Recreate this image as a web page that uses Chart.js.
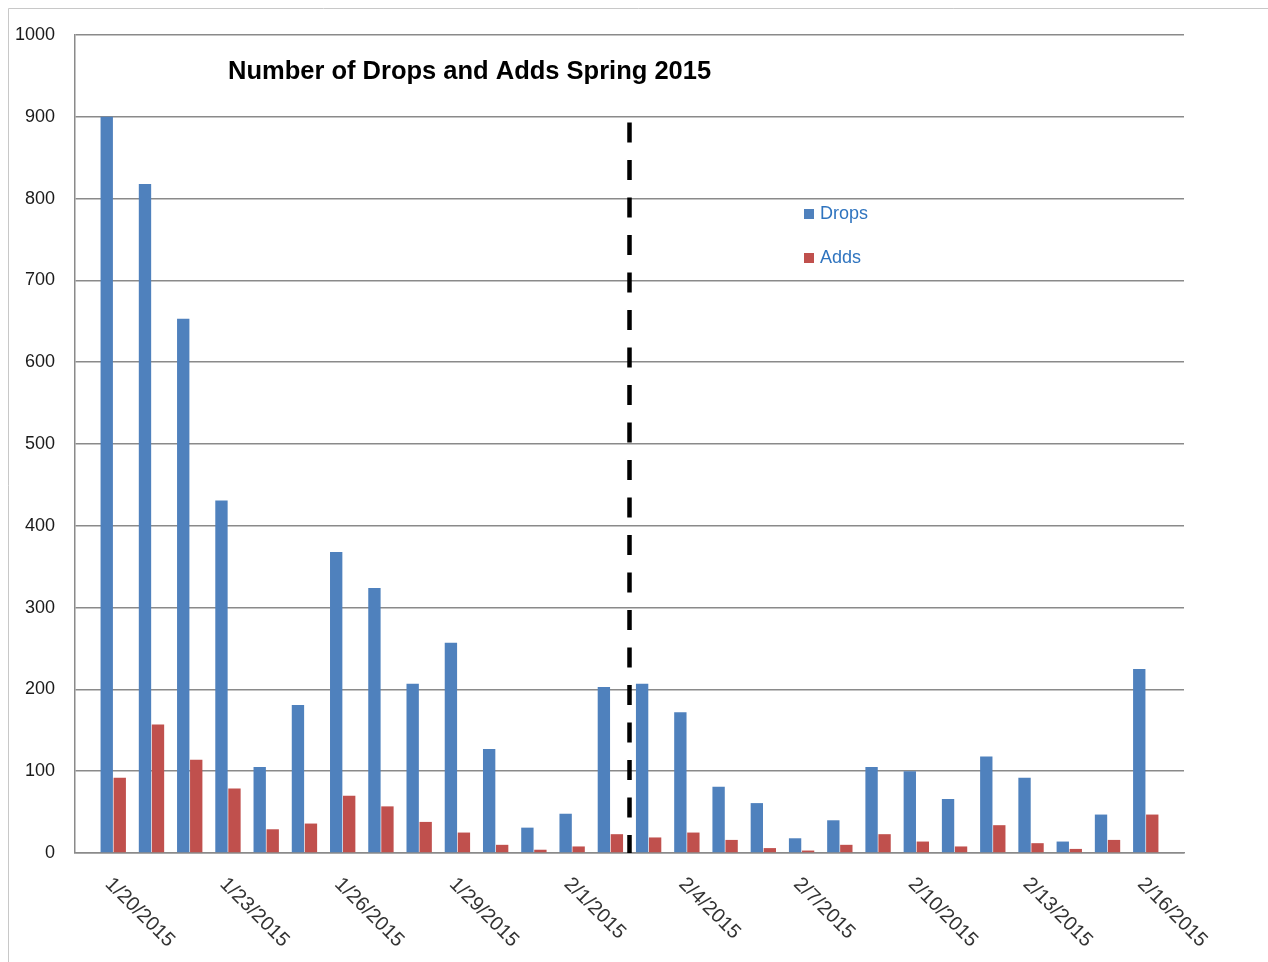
<!DOCTYPE html>
<html>
<head>
<meta charset="utf-8">
<title>Drops and Adds</title>
<script src="https://cdn.jsdelivr.net/npm/chart.js@4.4.1/dist/chart.umd.min.js"></script>
<style>
  html, body { margin: 0; padding: 0; background: #fff; }
  #wrap { width: 1268px; height: 962px; }
</style>
</head>
<body>
<div id="wrap"><canvas id="myChart" width="1268" height="962"></canvas></div>
<script>
//Data. Axis runs from the day before the first bar to the day after the last one.
var days = ['1/19/2015','1/20/2015','1/21/2015','1/22/2015','1/23/2015','1/24/2015','1/25/2015','1/26/2015',
            '1/27/2015','1/28/2015','1/29/2015','1/30/2015','1/31/2015','2/1/2015','2/2/2015','2/3/2015',
            '2/4/2015','2/5/2015','2/6/2015','2/7/2015','2/8/2015','2/9/2015','2/10/2015','2/11/2015',
            '2/12/2015','2/13/2015','2/14/2015','2/15/2015','2/16/2015','2/17/2015'];

//1/20 through 2/16
var drops = [900, 818, 653, 431, 105, 181, 368, 324, 207, 257, 127, 31, 48, 203,
             207, 172, 81, 61, 18, 40, 105, 100, 66, 118, 92, 14, 47, 225];
var adds  = [92, 157, 114, 79, 29, 36, 70, 57, 38, 25, 10, 4, 8, 23,
             19, 25, 16, 6, 3, 10, 23, 14, 8, 34, 12, 5, 16, 47];

//only every third date gets a label
var shownTicks = ['1/20/2015','1/23/2015','1/26/2015','1/29/2015','2/1/2015','2/4/2015',
                  '2/7/2015','2/10/2015','2/13/2015','2/16/2015'];

var chartTitle = 'Number of Drops and Adds Spring 2015';
var splitAfter = '2/2/2015';   // dashed line goes between this day and the next
var dividerTop = 893;

//pad the series so they line up with the days array (no bar on the end days)
var dropsData = [null].concat(drops).concat([null]);
var addsData = [null].concat(adds).concat([null]);

var extras = {
  id: 'extras',
  beforeDraw: function(chart) {
    var ctx = chart.ctx;
    ctx.save();
    ctx.fillStyle = '#fff';
    ctx.fillRect(0, 0, chart.width, chart.height);
    // thin frame round the picture
    ctx.strokeStyle = '#c8c8c8';
    ctx.lineWidth = 1;
    ctx.beginPath();
    ctx.moveTo(8.5, chart.height);
    ctx.lineTo(8.5, 8.5);
    ctx.lineTo(chart.width, 8.5);
    ctx.stroke();
    ctx.restore();
  },
  afterDraw: function(chart) {
    var ctx = chart.ctx;
    var xs = chart.scales.x, ys = chart.scales.y, area = chart.chartArea;
    ctx.save();

    // date labels slanting down to the right
    ctx.font = '20px "Liberation Sans"';
    ctx.fillStyle = '#333';
    ctx.textAlign = 'left';
    ctx.textBaseline = 'middle';
    shownTicks.forEach(function(d) {
      var x = xs.getPixelForValue(days.indexOf(d));
      ctx.save();
      ctx.translate(x - 5, area.bottom + 28);
      ctx.rotate(Math.PI / 4);
      ctx.fillText(d, 0, 0);
      ctx.restore();
    });

    // dashed divider
    var i = days.indexOf(splitAfter);
    var lx = (xs.getPixelForValue(i) + xs.getPixelForValue(i + 1)) / 2;
    ctx.strokeStyle = '#000';
    ctx.lineWidth = 4.5;
    ctx.setLineDash([20, 17.5]);
    ctx.beginPath();
    ctx.moveTo(lx, ys.getPixelForValue(dividerTop));
    ctx.lineTo(lx, ys.getPixelForValue(0));
    ctx.stroke();
    ctx.setLineDash([]);

    // title sits inside the plot
    ctx.font = 'bold 25.5px "Liberation Sans"';
    ctx.fillStyle = '#000';
    ctx.fillText(chartTitle, 228, 72);

    // legend, also inside the plot
    ctx.font = '18px "Liberation Sans"';
    chart.data.datasets.forEach(function(ds, k) {
      var ly = 214 + k * 44;
      ctx.fillStyle = ds.backgroundColor;
      ctx.fillRect(804, ly - 5, 10, 10);
      ctx.fillStyle = '#2f74bf';
      ctx.fillText(ds.label, 820, ly);
    });

    ctx.restore();
  }
};

var ctx = document.getElementById('myChart').getContext('2d');
var chart = new Chart(ctx, {
  type: 'bar',
  data: {
    labels: days,
    datasets: [{
      label: 'Drops',
      backgroundColor: '#4f81bd',
      data: dropsData,
      categoryPercentage: 0.68,
      barPercentage: 0.95
    }, {
      label: 'Adds',
      backgroundColor: '#c0504d',
      data: addsData,
      categoryPercentage: 0.68,
      barPercentage: 0.95
    }]
  },
  options: {
    responsive: false,
    animation: false,
    layout: { padding: { left: 0, top: 35, right: 84, bottom: 0 } },
    plugins: {
      legend: { display: false },
      title: { display: false },
      tooltip: { enabled: false }
    },
    scales: {
      x: {
        offset: false,
        ticks: { display: false },
        grid: { display: false, drawTicks: false },
        border: { color: '#8a8a8a', width: 1.5 },
        afterFit: function(s) { s.height = 109; }
      },
      y: {
        min: 0,
        max: 1000,
        ticks: {
          stepSize: 100,
          color: '#1a1a1a',
          padding: 20,
          font: { size: 18, family: 'Liberation Sans' },
          callback: function(v) { return String(v); }
        },
        grid: { color: '#8a8a8a', lineWidth: 1.5, drawTicks: false },
        border: { color: '#8a8a8a', width: 1.5 },
        afterFit: function(s) { s.width = 75; }
      }
    }
  },
  plugins: [extras]
});
</script>
</body>
</html>
